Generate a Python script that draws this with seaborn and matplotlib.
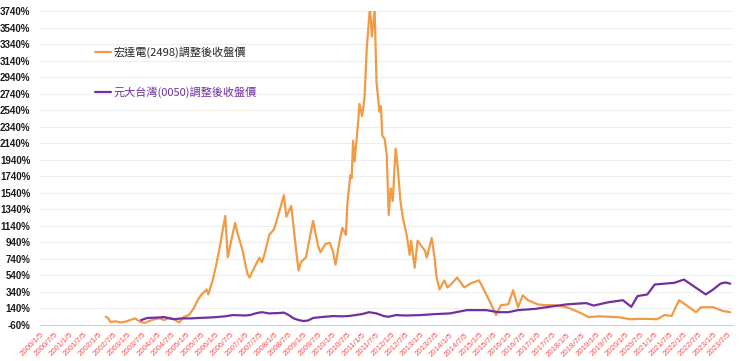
import matplotlib
matplotlib.use("Agg")
import matplotlib.pyplot as plt
import pandas as pd
import seaborn as sns

# ---------------- data ----------------
HTC_DATES = [
    "2002-04-01", "2002-05-01", "2002-06-01", "2002-08-01", "2002-10-01", "2002-12-01",
    "2003-02-01", "2003-04-01", "2003-06-01", "2003-08-01", "2003-10-01", "2003-12-01",
    "2004-02-01", "2004-04-01", "2004-06-01", "2004-08-01", "2004-10-01", "2004-12-01",
    "2005-02-01", "2005-04-01", "2005-06-01", "2005-07-01", "2005-09-10", "2005-10-01",
    "2005-11-25", "2006-01-01", "2006-03-01", "2006-04-01", "2006-05-01", "2006-06-01",
    "2006-07-01", "2006-09-01", "2006-10-01", "2006-12-01", "2007-02-01", "2007-03-01",
    "2007-05-01", "2007-07-01", "2007-08-01", "2007-09-01", "2007-11-01", "2008-01-01",
    "2008-03-01", "2008-05-01", "2008-06-01", "2008-08-01", "2008-10-01", "2008-11-01",
    "2008-12-01", "2009-02-01", "2009-03-01", "2009-05-01", "2009-07-01", "2009-08-01",
    "2009-10-01", "2009-11-25", "2010-01-01", "2010-02-05", "2010-03-28", "2010-05-01",
    "2010-06-15", "2010-07-01", "2010-08-08", "2010-08-25", "2010-09-12", "2010-10-01",
    "2010-11-10", "2010-12-01", "2011-01-01", "2011-02-01", "2011-03-01", "2011-04-10",
    "2011-05-05", "2011-06-08", "2011-07-01", "2011-08-08", "2011-08-25", "2011-09-12",
    "2011-10-10", "2011-11-06", "2011-12-01", "2011-12-25", "2012-01-20", "2012-02-25",
    "2012-03-20", "2012-04-25", "2012-05-25", "2012-06-15", "2012-07-12", "2012-08-18",
    "2012-09-05", "2012-10-20", "2012-11-25", "2013-01-01", "2013-02-25", "2013-03-20",
    "2013-05-20", "2013-06-25", "2013-07-20", "2013-08-25", "2013-10-25", "2013-12-01",
    "2014-01-15", "2014-04-01", "2014-07-01", "2014-10-01", "2015-01-01", "2015-03-01",
    "2015-06-01", "2015-08-01", "2015-10-01", "2016-01-01", "2016-03-01", "2016-05-01",
    "2016-07-01", "2016-09-01", "2017-01-01", "2017-04-01", "2017-08-01", "2018-01-01",
    "2018-06-01", "2018-10-01", "2019-02-01", "2019-06-01", "2019-10-01", "2020-03-01",
    "2020-08-01", "2021-02-01", "2021-05-01", "2021-08-01", "2021-11-01", "2022-01-01",
    "2022-06-01", "2022-08-01", "2023-01-01", "2023-05-01", "2023-08-01",
]
HTC_VALUES = [
    40, 20, -25, -15, -30, -20,
    0, 20, -20, -35, -10, 10,
    20, 0, 30, 10, -30, 40,
    60, 140, 260, 300, 370, 310,
    480, 635, 920, 1100, 1260, 760,
    900, 1175, 1050, 850, 560, 515,
    640, 755, 700, 790, 1030, 1100,
    1300, 1510, 1250, 1380, 850, 600,
    700, 760, 900, 1200, 900, 820,
    920, 935, 840, 670, 960, 1115,
    1030, 1390, 1750, 1715, 2170, 1920,
    2350, 2615, 2470, 2675, 3275, 3790,
    3430, 3755, 2880, 2520, 2590, 2230,
    2195, 2000, 1270, 1595, 1440, 2075,
    1870, 1440, 1235, 1150, 1030, 790,
    960, 635, 960, 910, 840, 755,
    995, 755, 515, 370, 480, 395,
    430, 515, 395, 450, 480, 370,
    190, 60, 180, 190, 360, 155,
    300, 240, 190, 180, 180, 155,
    95, 35, 45, 40, 35, 10,
    15, 10, 60, 50, 240, 200,
    95, 155, 155, 110, 95,
]

ETF_DATES = [
    "2003-06-15", "2003-09-01", "2004-01-01", "2004-04-01", "2004-06-01", "2004-08-01",
    "2004-11-01", "2005-03-01", "2005-06-01", "2005-10-01", "2006-01-01", "2006-05-01",
    "2006-08-01", "2007-01-01", "2007-03-01", "2007-06-01", "2007-08-01", "2007-11-01",
    "2008-03-01", "2008-05-01", "2008-07-01", "2008-09-01", "2008-11-01", "2009-01-01",
    "2009-03-01", "2009-05-01", "2009-08-01", "2010-01-01", "2010-05-01", "2010-08-01",
    "2011-01-01", "2011-04-01", "2011-07-01", "2011-10-01", "2011-12-01", "2012-03-01",
    "2012-07-01", "2013-01-01", "2013-07-01", "2014-01-01", "2014-08-01", "2015-04-01",
    "2015-09-01", "2016-01-01", "2016-05-01", "2016-12-01", "2017-07-01", "2018-01-01",
    "2018-09-01", "2018-12-01", "2019-06-01", "2019-12-01", "2020-03-15", "2020-06-01",
    "2020-10-01", "2021-01-01", "2021-05-01", "2021-09-01", "2022-01-01", "2022-04-01",
    "2022-10-01", "2023-01-01", "2023-04-01", "2023-06-01", "2023-08-01",
]
ETF_VALUES = [
    0, 25, 30, 36, 20, 10,
    20, 20, 25, 30, 35, 45,
    60, 55, 60, 85, 95, 80,
    85, 90, 60, 20, 0, -12,
    -5, 25, 35, 48, 45, 50,
    72, 95, 80, 48, 40, 60,
    55, 60, 72, 80, 120, 120,
    95, 95, 120, 135, 165, 190,
    205, 175, 215, 240, 160, 290,
    310, 430, 440, 450, 490, 430,
    310, 370, 440, 455, 440,
]

SERIES_NAMES = ["宏達電(2498)調整後收盤價", "元大台灣(0050)調整後收盤價"]
SERIES_COLORS = ["#F39A45", "#7030A0"]
LABEL_COLORS = ["#262626", "#7030A0"]

X_TICK_DATES = [
    "2000-01-05", "2000-07-05", "2001-01-05", "2001-07-05", "2002-01-05", "2002-07-05",
    "2003-01-05", "2003-07-05", "2004-01-05", "2004-07-05", "2005-01-05", "2005-07-05",
    "2006-01-05", "2006-07-05", "2007-01-05", "2007-07-05", "2008-01-05", "2008-07-05",
    "2009-01-05", "2009-07-05", "2010-01-05", "2010-07-05", "2011-01-05", "2011-07-05",
    "2012-01-05", "2012-07-05", "2013-01-05", "2013-07-05", "2014-01-05", "2014-07-05",
    "2015-01-05", "2015-07-05", "2016-01-05", "2016-07-05", "2017-01-05", "2017-07-05",
    "2018-01-05", "2018-07-05", "2019-01-05", "2019-07-05", "2020-01-05", "2020-07-05",
    "2021-01-05", "2021-07-05", "2022-01-05", "2022-07-05", "2023-01-05", "2023-07-05",
]
X_TICK_LABELS = [
    "2000/1/5", "2000/7/5", "2001/1/5", "2001/7/5", "2002/1/5", "2002/7/5",
    "2003/1/5", "2003/7/5", "2004/1/5", "2004/7/5", "2005/1/5", "2005/7/5",
    "2006/1/5", "2006/7/5", "2007/1/5", "2007/7/5", "2008/1/5", "2008/7/5",
    "2009/1/5", "2009/7/5", "2010/1/5", "2010/7/5", "2011/1/5", "2011/7/5",
    "2012/1/5", "2012/7/5", "2013/1/5", "2013/7/5", "2014/1/5", "2014/7/5",
    "2015/1/5", "2015/7/5", "2016/1/5", "2016/7/5", "2017/1/5", "2017/7/5",
    "2018/1/5", "2018/7/5", "2019/1/5", "2019/7/5", "2020/1/5", "2020/7/5",
    "2021/1/5", "2021/7/5", "2022/1/5", "2022/7/5", "2023/1/5", "2023/7/5",
]
Y_TICKS = [-60, 140, 340, 540, 740, 940, 1140, 1340, 1540, 1740, 1940, 2140,
           2340, 2540, 2740, 2940, 3140, 3340, 3540, 3740]
Y_TICK_LABELS = [f"{v}%" for v in Y_TICKS]

# ---------------- plot ----------------
sns.set_theme(style="white")
plt.rcParams["font.family"] = ["Noto Sans CJK TC", "DejaVu Sans"]

df = pd.concat([
    pd.DataFrame({"date": pd.to_datetime(HTC_DATES), "value": HTC_VALUES, "series": SERIES_NAMES[0]}),
    pd.DataFrame({"date": pd.to_datetime(ETF_DATES), "value": ETF_VALUES, "series": SERIES_NAMES[1]}),
], ignore_index=True)

fig = plt.figure(figsize=(7.4, 3.61), dpi=100)
ax = fig.add_axes([40 / 740, 1 - 325 / 361, 693 / 740, 314 / 361])

sns.lineplot(data=df, x="date", y="value", hue="series", hue_order=SERIES_NAMES,
             palette=SERIES_COLORS, linewidth=1.6, ax=ax, legend=True)

ax.set_xlim(pd.Timestamp("2000-01-01"), pd.Timestamp("2023-09-05"))
ax.set_ylim(-60, 3740)

ax.set_yticks(Y_TICKS)
ax.set_yticklabels(Y_TICK_LABELS, fontsize=7, fontweight="bold",
                   family=["Liberation Sans", "DejaVu Sans"], color="#1a1a1a")
ax.set_xticks(pd.to_datetime(X_TICK_DATES))
ax.set_xticklabels(X_TICK_LABELS, rotation=45, ha="right", rotation_mode="anchor",
                   fontsize=5.7, color="#FF4B4B", family=["Liberation Sans", "DejaVu Sans"])
ax.tick_params(axis="y", length=0, pad=7)
ax.tick_params(axis="x", length=3, width=0.6, color="#d0d0d0", pad=1.5, direction="out")

ax.grid(axis="y", color="#eeeeee", linewidth=0.8)
ax.grid(axis="x", visible=False)
for s in ["top", "right", "left"]:
    ax.spines[s].set_visible(False)
ax.spines["bottom"].set_color("#d0d0d0")
ax.spines["bottom"].set_linewidth(0.8)
ax.set_xlabel("")
ax.set_ylabel("")

leg = ax.legend(loc="upper left", bbox_to_anchor=(55 / 693, 1 - 35 / 314),
                frameon=False, fontsize=8, labelspacing=2.6, handlelength=1.4,
                handletextpad=0.3, borderpad=0, borderaxespad=0)
for txt, c in zip(leg.get_texts(), LABEL_COLORS):
    txt.set_color(c)
for line in leg.get_lines():
    line.set_linewidth(1.6)

fig.savefig("out.png", dpi=100)
